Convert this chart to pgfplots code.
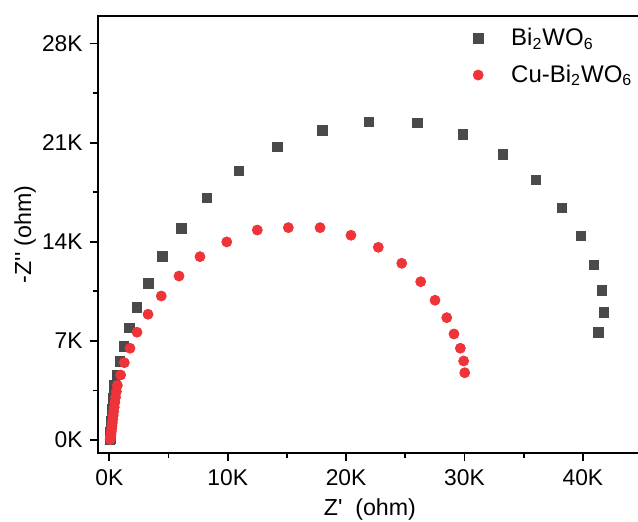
\documentclass[border=0pt]{standalone}
\usepackage{fontspec}
\setmainfont{Liberation Sans}[Ligatures=TeXOff]
\usepackage{pgfplots}
\pgfplotsset{compat=1.18}
\definecolor{sqgray}{RGB}{74,74,74}
\definecolor{cured}{RGB}{238,52,56}
\begin{document}
\begin{tikzpicture}
\begin{axis}[
  scale only axis,
  width=272.2pt, height=218.65pt,
  xmin=-0.98, xmax=45, ymin=-0.92, ymax=29.97,
  xtick={0,10,20,30,40}, xticklabels={0K,10K,20K,30K,40K},
  ytick={0,7,14,21,28}, yticklabels={0K,7K,14K,21K,28K},
  minor x tick num=1, minor y tick num=1,
  xtick pos=bottom, ytick pos=left,
  tick align=outside,
  major tick length=4pt, minor tick length=2.5pt,
  every tick/.style={black, line width=0.9pt},
  axis line style={black, line width=0.9pt},
  tick label style={font=\fontsize{11.4}{13}\selectfont},
  xticklabel style={yshift=-1pt},
  label style={font=\fontsize{11.6}{13}\selectfont},
  xlabel={Z'\hspace{0.55em}(ohm)},
  ylabel={-Z'' (ohm)},
  xlabel style={at={(axis description cs:0.5,0)}, anchor=center, yshift=-28pt},
  ylabel style={at={(axis description cs:-0.1334,0.5)}, anchor=center},
  legend style={draw=none, fill=none, at={(axis description cs:0.678,0.99)}, anchor=north west,
    font=\fontsize{12}{13}\selectfont, row sep=4pt,
    /tikz/every odd column/.append style={column sep=12pt}},
  legend cell align=left,
]
\addplot[only marks, mark=square*, mark size=2.4pt, color=sqgray] coordinates {
(0.06,0.05)(0.07,0.13)(0.08,0.24)(0.09,0.37)(0.10,0.52)(0.12,0.70)(0.14,0.90)(0.16,1.12)
(0.18,1.36)(0.21,1.62)(0.24,1.90)(0.27,2.20)(0.30,2.55)(0.34,2.92)(0.38,3.35)
(0.42,3.84)(0.63,4.59)(0.90,5.53)(1.24,6.59)(1.72,7.93)(2.34,9.37)(3.29,11.07)
(4.48,12.95)(6.08,14.95)(8.23,17.09)(10.93,19.00)(14.22,20.70)(18.02,21.88)
(21.93,22.46)(26.01,22.39)(29.85,21.59)(33.23,20.18)(36.04,18.37)(38.24,16.39)
(39.84,14.41)(40.93,12.36)(41.61,10.57)(41.76,9.02)(41.30,7.58)
};
\addlegendentry{Bi\textsubscript{2}WO\textsubscript{6}}
\addplot[only marks, mark=*, mark size=2.5pt, color=cured] coordinates {
(0.07,0.03)(0.09,0.10)(0.11,0.20)(0.13,0.32)(0.15,0.46)(0.17,0.62)(0.20,0.80)(0.23,1.00)
(0.26,1.22)(0.29,1.46)(0.33,1.72)(0.37,2.01)(0.42,2.32)(0.47,2.66)(0.53,3.02)(0.60,3.42)
(0.68,3.86)(0.96,4.59)(1.27,5.46)(1.75,6.48)(2.34,7.61)(3.27,8.88)(4.39,10.17)
(5.89,11.58)(7.66,12.95)(9.92,13.99)(12.50,14.83)(15.12,15.00)(17.80,15.00)
(20.41,14.46)(22.72,13.61)(24.70,12.48)(26.30,11.18)(27.51,9.87)(28.50,8.64)
(29.11,7.49)(29.65,6.48)(29.93,5.58)(30.02,4.75)
};
\addlegendentry{Cu-Bi\textsubscript{2}WO\textsubscript{6}}
\end{axis}
\pgfresetboundingbox
\path[use as bounding box] (-48.85pt,-34pt) rectangle (270.15pt,226.5pt);
\end{tikzpicture}
\end{document}
